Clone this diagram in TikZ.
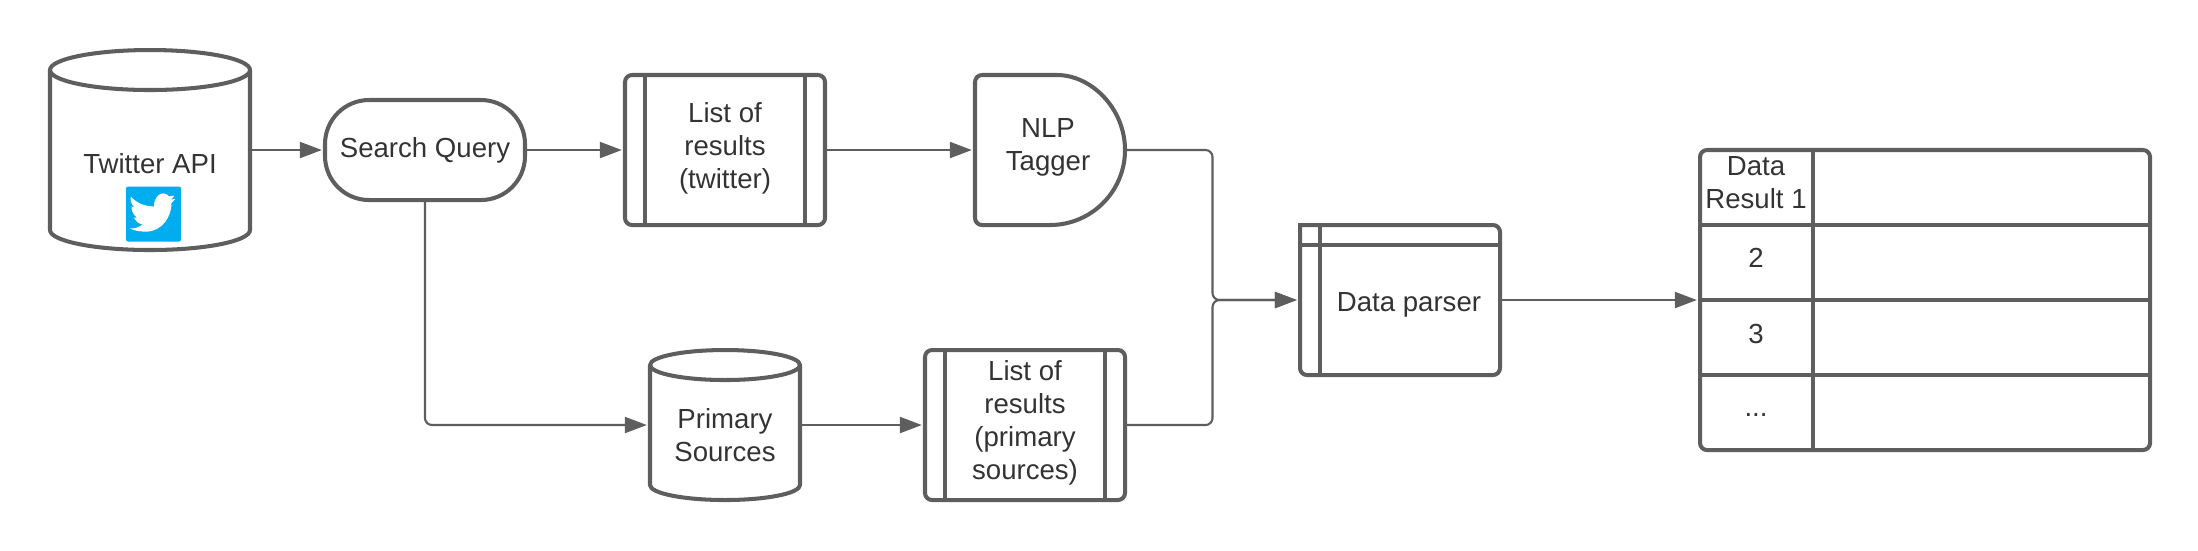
\documentclass[tikz,border=0pt]{standalone}
\usepackage{fontspec}
\setmainfont{Liberation Sans}
\usetikzlibrary{arrows.meta}
\definecolor{linegray}{HTML}{5E5E5E}
\definecolor{textgray}{HTML}{333333}
\definecolor{twitterblue}{HTML}{00ADEF}
\tikzstyle{boxline} = [draw=linegray, line width=1.15pt, line join=round]
\tikzstyle{arrow} = [draw=linegray, line width=0.6pt, rounded corners=0.07cm, shorten >=0.9pt, -{Triangle[length=0.22cm,width=0.16cm]}]
\tikzstyle{txt} = [text=textgray, font=\fontsize{7.85}{9.4}\selectfont, align=center, inner sep=0pt]
\tikzstyle{listbox} = [boxline, rounded corners=0.07cm, minimum width=2cm, minimum height=1.5cm, inner sep=0pt, outer sep=0pt]
\tikzstyle{hidden} = [txt, minimum width=2cm, minimum height=1.5cm, outer sep=0pt]

\begin{document}
\begin{tikzpicture}
        \useasboundingbox (0, 0) rectangle (21.98, -5.5);
        % top row
        \node[hidden, minimum height=2cm] (twitter) at (1.5, -1.5) {};
        \node[txt] (twitterlabel) at (1.5, -1.64) {Twitter API};
        \node[fill=twitterblue, rounded corners=0.02cm, minimum size=0.55cm, inner sep=0pt] (twittericon) at (1.535, -2.14) {};
        \begin{scope}[shift={(twittericon.north west)}, x=0.00333cm, y=-0.00333cm, xshift=-0.16cm, yshift=0.167cm]
            \fill[white] (65, 83) .. controls (85, 105) and (110, 112) .. (135, 112)
                .. controls (133, 88) and (150, 70) .. (165, 73)
                .. controls (172, 74) and (176, 78) .. (180, 82) -- (195, 80) -- (186, 92) -- (199, 89) -- (187, 102)
                .. controls (188, 140) and (160, 188) .. (110, 188)
                .. controls (90, 188) and (75, 185) .. (62, 178)
                .. controls (75, 180) and (90, 175) .. (100, 166)
                .. controls (88, 165) and (78, 155) .. (74, 146) -- (84, 146)
                .. controls (72, 138) and (66, 125) .. (67, 112) -- (76, 115)
                .. controls (65, 105) and (62, 92) .. (65, 83) -- cycle;
        \end{scope}
        \node[boxline, txt, rounded corners=0.44cm, minimum width=2cm, minimum height=1cm, outer sep=0pt] (search) at (4.25, -1.5) {Search Query};
        \node[listbox] (listtwitter) at (7.25, -1.5) {};
        \node[txt] (listtwitterlabel) at (7.25, -1.48) {List of\\results\\(twitter)};
        \node[hidden, minimum width=1.5cm] (nlp) at (10.5, -1.5) {};
        \node[txt] (nlplabel) at (10.48, -1.47) {NLP\\Tagger};
        \draw[boxline] (nlp.north) arc (90:-90:0.75) [rounded corners=0.07cm] -- (nlp.south west) -- (nlp.north west) -- cycle;
        % bottom row
        \node[hidden, minimum width=1.5cm] (primary) at (7.25, -4.25) {};
        \node[txt] (primarylabel) at (7.25, -4.35) {Primary\\Sources};
        \node[listbox] (listprimary) at (10.25, -4.25) {};
        \node[txt] (listprimarylabel) at (10.25, -4.23) {List of\\results\\(primary\\sources)};
        \foreach \n/\a/\b in {twitter/1/0.2, primary/0.75/0.15} {
            \draw[boxline] ([yshift=-\b cm]\n.north west) arc (180:-180:\a cm and \b cm) -- ([yshift=\b cm]\n.south west) arc (180:360:\a cm and \b cm) -- ([yshift=-\b cm]\n.north east);
        }
        \foreach \n in {listtwitter, listprimary} {
            \draw[boxline] ([xshift=0.2cm]\n.north west) -- ([xshift=0.2cm]\n.south west);
            \draw[boxline] ([xshift=-0.2cm]\n.north east) -- ([xshift=-0.2cm]\n.south east);
        }
        % parser
        \node[hidden] (parser) at (14, -3) {};
        \node[txt] (parserlabel) at (14.09, -3.05) {Data parser};
        \draw[boxline, line cap=rect, rounded corners=0.07cm] (parser.north west) -- (parser.north east) -- (parser.south east) -- (parser.south west) -- (parser.north west);
        \draw[boxline] ([xshift=0.2cm]parser.north west) -- ([xshift=0.2cm]parser.south west);
        \draw[boxline] ([yshift=-0.2cm]parser.north west) -- ([yshift=-0.2cm]parser.north east);
        % table
        \node[boxline, rounded corners=0.07cm, minimum width=4.5cm, minimum height=3cm, inner sep=0pt, outer sep=0pt] (table) at (19.25, -3) {};
        \draw[boxline] ([xshift=1.125cm]table.north west) -- ([xshift=1.125cm]table.south west);
        \foreach \r in {0.75, 1.5, 2.25} {
            \draw[boxline] ([yshift=-\r cm]table.north west) -- ([yshift=-\r cm]table.north east);
        }
        \node[txt] (cellone) at (17.56, -1.83) {Data\\Result 1};
        \node[txt] (celltwo) at (17.56, -2.58) {2};
        \node[txt] (cellthree) at (17.56, -3.34) {3};
        \node[txt, anchor=base] (cellmore) at (17.56, -4.16) {...};
        % connectors
        \coordinate (merge) at (12.125, -3);
        \draw[arrow] (twitter.east) -- (search.west);
        \draw[arrow] (search.east) -- (listtwitter.west);
        \draw[arrow] (listtwitter.east) -- (nlp.west);
        \draw[arrow] (search.south) |- (primary.west);
        \draw[arrow] (primary.east) -- (listprimary.west);
        \draw[arrow] (nlp.east) -| (merge) -- (parser.west);
        \draw[arrow] (listprimary.east) -| (merge) -- (parser.west);
        \draw[arrow] (parser.east) -- (table.west);
\end{tikzpicture}
\end{document}
